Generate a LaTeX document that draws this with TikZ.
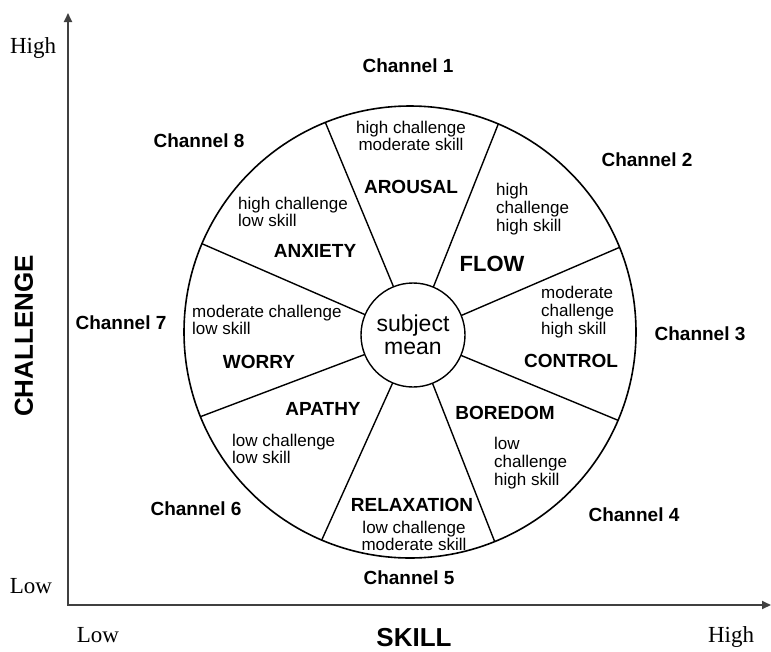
\documentclass[tikz,border=0pt]{standalone}
\usepackage{fontspec}
\setmainfont{Liberation Serif}
\setsansfont{Liberation Sans}
\usetikzlibrary{arrows.meta}
\begin{document}
\begin{tikzpicture}[x=1pt,y=-1pt,
  small/.style={font=\sffamily\fontsize{17}{17.8}\selectfont, inner sep=0pt, align=left},
  moodlabel/.style={font=\sffamily\bfseries\fontsize{19}{20}\selectfont, inner sep=0pt},
  chan/.style={font=\sffamily\bfseries\fontsize{19}{20}\selectfont, inner sep=0pt},
  axislabel/.style={font=\sffamily\bfseries\fontsize{26}{28}\selectfont, inner sep=0pt},
  scalelabel/.style={font=\rmfamily\fontsize{23}{24}\selectfont, inner sep=0pt, anchor=base},
  axisline/.style={line width=1.8pt, draw=black!75, line join=miter,
    {Triangle[length=9pt,width=8pt]}-{Triangle[length=9pt,width=8pt]}},
  ring/.style={circle, draw, line width=1.6pt, inner sep=0pt, outer sep=0pt},
  spoke/.style={line width=1.4pt},
]
\useasboundingbox (0,0) rectangle (771,651);

% axes
\coordinate (origin) at (68,605);
\coordinate (ytip) at (68,13);
\coordinate (xtip) at (771,605);
\draw[axisline] (ytip) -- (origin) -- (xtip);

\node[scalelabel] (yhigh) at (33,53) {High};
\node[scalelabel] (ylow) at (31,593) {Low};
\node[scalelabel] (xlow) at (98,642) {Low};
\node[scalelabel] (xhigh) at (731,642) {High};
\node[axislabel] (skill) at (414,638) {SKILL};
\node[axislabel, rotate=90] (challenge) at (24,336) {CHALLENGE};

% wheel
\node[ring, minimum size=452pt] (wheel) at (410,332) {};
\node[ring, line width=1.4pt, minimum size=104pt, align=center,
      font=\sffamily\fontsize{23}{22.5}\selectfont] (hub) at (413,335) {subject\\mean};
\foreach \a in {22.5,67.5,...,337.5}
  \draw[spoke] (hub.\a) -- (wheel.\a);

% channels
\node[chan] (c1) at (408,66) {Channel 1};
\node[chan] (c2) at (647,160) {Channel 2};
\node[chan] (c3) at (700,334) {Channel 3};
\node[chan] (c4) at (634,515) {Channel 4};
\node[chan] (c5) at (409,578) {Channel 5};
\node[chan] (c6) at (196,509) {Channel 6};
\node[chan] (c7) at (121,323) {Channel 7};
\node[chan] (c8) at (199,141) {Channel 8};

% sector texts
\node[small, align=center] (t1) at (411,136) {high challenge\\moderate skill};
\node[moodlabel] (arousal) at (411,187) {AROUSAL};

\node[small, anchor=west] (t2) at (496,209) {high\\challenge\\high skill};
\node[moodlabel, font=\sffamily\bfseries\fontsize{22}{24}\selectfont] (flow) at (492,264) {FLOW};

\node[small, anchor=west] (t3) at (541,312) {moderate\\challenge\\high skill};
\node[moodlabel] (control) at (571,361) {CONTROL};

\node[moodlabel] (boredom) at (505,413) {BOREDOM};
\node[small, anchor=west] (t4) at (494,463) {low\\challenge\\high skill};

\node[moodlabel] (relax) at (412,505) {RELAXATION};
\node[small, align=center] (t5) at (414,536) {low challenge\\moderate skill};

\node[moodlabel] (apathy) at (323,409) {APATHY};
\node[small, anchor=west] (t6) at (232,449) {low challenge\\low skill};

\node[small, anchor=west] (t7) at (192,320) {moderate challenge\\low skill};
\node[moodlabel] (worry) at (259,362) {WORRY};

\node[small, anchor=west] (t8) at (238,212) {high challenge\\low skill};
\node[moodlabel] (anxiety) at (315,251) {ANXIETY};
\end{tikzpicture}
\end{document}
